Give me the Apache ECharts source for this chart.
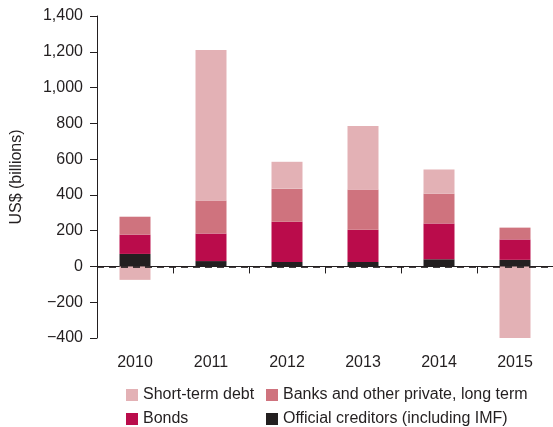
<!DOCTYPE html>
<html>
<head>
<meta charset="utf-8">
<script src="https://cdn.jsdelivr.net/npm/echarts@6/dist/echarts.min.js"></script>
<style>
html,body{margin:0;padding:0;background:#fff;}
#chart{width:553px;height:427px;}
</style>
</head>
<body>
<div id="chart"></div>
<script>
var years = ['2010', '2011', '2012', '2013', '2014', '2015'];
var official = [70, 30, 25, 25, 40, 37];
var bonds = [108, 154, 225, 180, 200, 114];
var banks = [100, 184, 185, 225, 167, 66];
var shortTerm = [-75, 842, 150, 355, 135, -420];
var yTicks = [-400, -200, 0, 200, 400, 600, 800, 1000, 1200, 1400];

var FONT = 'Liberation Sans, Arial, Helvetica, sans-serif';
var TXT = '#231F20';
var FS = 16;

function fmt(v) {
  var s = Math.abs(v).toString().replace(/\B(?=(\d{3})+(?!\d))/g, ',');
  return (v < 0 ? '\u2212' : '') + s;
}

var chart = echarts.init(document.getElementById('chart'), null, {renderer: 'canvas'});
chart.setOption({
  animation: false,
  grid: {left: 97, top: 16, width: 460, height: 322, containLabel: false},
  legend: [
    {
      data: ['Short-term debt', 'Bonds'],
      orient: 'vertical', left: 126, top: 387, height: 60, padding: 0,
      itemWidth: 12, itemHeight: 12, itemGap: 8,
      icon: 'rect',
      textStyle: {fontFamily: FONT, fontSize: FS, color: TXT}
    },
    {
      data: ['Banks and other private, long term', 'Official creditors (including IMF)'],
      orient: 'vertical', left: 266, top: 387, height: 60, padding: 0,
      itemWidth: 12, itemHeight: 12, itemGap: 8,
      icon: 'rect',
      textStyle: {fontFamily: FONT, fontSize: FS, color: TXT}
    }
  ],
  xAxis: {
    type: 'category',
    data: years,
    position: 'bottom',
    axisLine: {show: true, lineStyle: {color: TXT, width: 1}},
    axisTick: {show: true, alignWithLabel: false, length: 7, lineStyle: {color: TXT}},
    axisLabel: {fontFamily: FONT, fontSize: FS, color: TXT, margin: 17},
    splitLine: {show: false}
  },
  yAxis: {
    type: 'value',
    min: yTicks[0], max: yTicks[yTicks.length - 1], interval: 200,
    name: 'US$ (billions)',
    nameLocation: 'middle',
    nameGap: 72,
    nameRotate: 90,
    nameTextStyle: {fontFamily: FONT, fontSize: FS, color: TXT},
    axisLine: {show: true, lineStyle: {color: TXT, width: 1}},
    axisTick: {show: true, length: 7, lineStyle: {color: TXT}},
    axisLabel: {fontFamily: FONT, fontSize: FS, color: TXT, margin: 14, formatter: fmt},
    splitLine: {show: false}
  },
  series: [
    {name: 'Official creditors (including IMF)', type: 'bar', stack: 'a', data: official, barWidth: 31, itemStyle: {color: '#231F20'}},
    {name: 'Bonds', type: 'bar', stack: 'a', data: bonds, barWidth: 31, itemStyle: {color: '#BA0C4B'}},
    {name: 'Banks and other private, long term', type: 'bar', stack: 'a', data: banks, barWidth: 31, itemStyle: {color: '#CF737E'}},
    {name: 'Short-term debt', type: 'bar', stack: 'a', data: shortTerm, barWidth: 31, itemStyle: {color: '#E3B1B5'},
      markLine: {
        silent: true, symbol: 'none', animation: false,
        label: {show: false},
        lineStyle: {color: '#231F20', type: [7, 5], width: 2, opacity: 0.85},
        data: [{yAxis: 0}]
      }
    }
  ]
});
</script>
</body>
</html>
